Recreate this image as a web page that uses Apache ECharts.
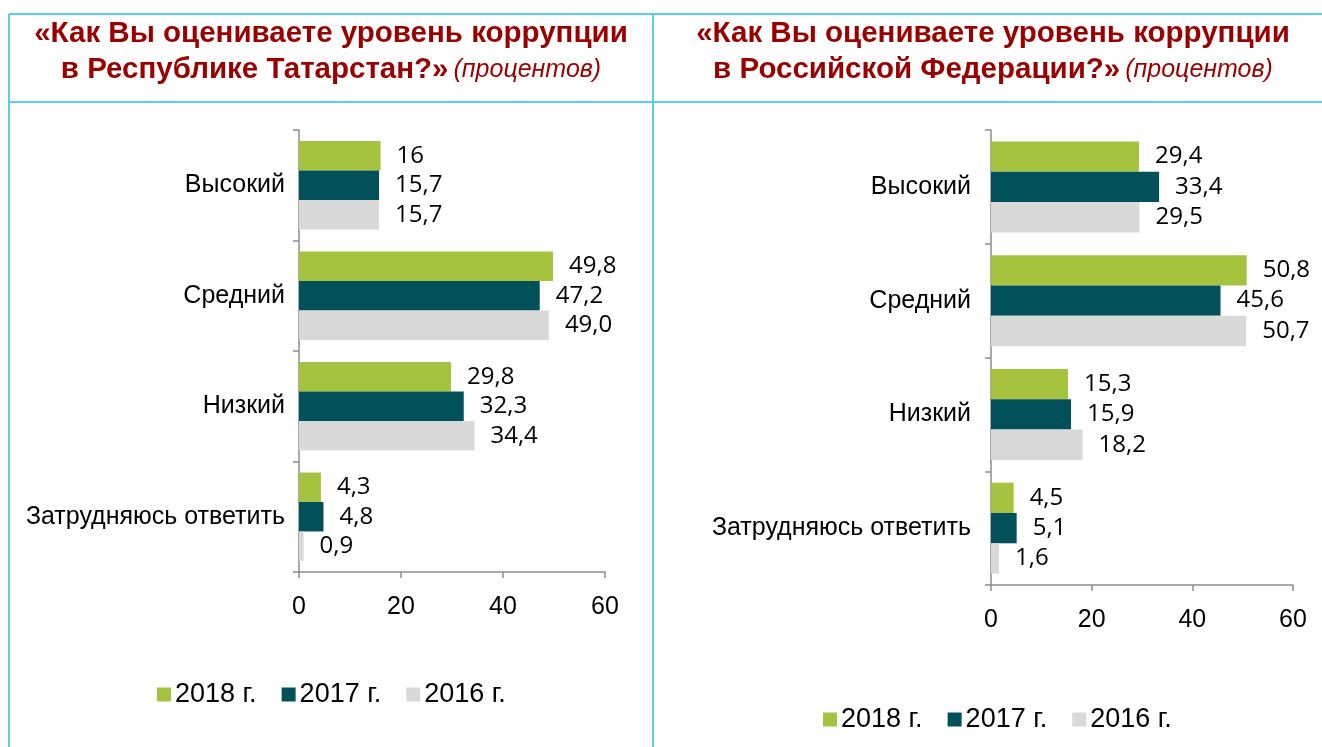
<!DOCTYPE html>
<html>
<head>
<meta charset="utf-8">
<script src="https://cdn.jsdelivr.net/npm/echarts@6/dist/echarts.min.js"></script>
<style>
  html, body { margin: 0; padding: 0; background: #fff; }
  #main { width: 1322px; height: 747px; }
</style>
</head>
<body>
<div id="main"></div>
<script>
// categories, top to bottom
var categories = ['Высокий', 'Средний', 'Низкий', 'Затрудняюсь ответить'];
var years = ['2018 г.', '2017 г.', '2016 г.'];

// Республика Татарстан (values kept as text so "49,0" keeps its decimal)
var tat2018 = ['16', '49.8', '29.8', '4.3'];
var tat2017 = ['15.7', '47.2', '32.3', '4.8'];
var tat2016 = ['15.7', '49.0', '34.4', '0.9'];

// Российская Федерация
var rf2018 = ['29.4', '50.8', '15.3', '4.5'];
var rf2017 = ['33.4', '45.6', '15.9', '5.1'];
var rf2016 = ['29.5', '50.7', '18.2', '1.6'];

var xTicks = { min: 0, max: 60, interval: 20 };

window.onload = function () {
  var colors = ['#a6c33f', '#02515a', '#d9d9d9'];
  var frame = '#5ccbf0';
  var myChart = echarts.init(document.getElementById('main'));

  function titleText(line1, line2) {
    return '{b|' + line1 + '}\n{b|' + line2 + '} {i|(процентов)}';
  }
  var titleRich = {
    b: { fontFamily: 'Liberation Sans, Arial', fontWeight: 'bold', fontSize: 29.5, color: '#990000', lineHeight: 36 },
    i: { fontFamily: 'Liberation Sans, Arial', fontStyle: 'italic', fontWeight: 'normal', fontSize: 25, color: '#990000', lineHeight: 36 }
  };

  function yAxis(gridIndex) {
    return {
      type: 'category', gridIndex: gridIndex, inverse: true, data: categories,
      axisLine: { lineStyle: { color: '#8c8c8c', width: 1.5 } },
      axisTick: { show: true, length: 6, lineStyle: { color: '#8c8c8c', width: 1.5 } },
      axisLabel: { fontFamily: 'Liberation Sans, Arial', fontSize: 25, color: '#000', margin: gridIndex ? 20 : 14 }
    };
  }
  function xAxis(gridIndex) {
    return {
      type: 'value', gridIndex: gridIndex,
      min: xTicks.min, max: xTicks.max, interval: xTicks.interval,
      splitLine: { show: false },
      axisLine: { show: true, lineStyle: { color: '#8c8c8c', width: 1.5 } },
      axisTick: { show: true, length: 6, lineStyle: { color: '#8c8c8c', width: 1.5 } },
      axisLabel: { fontFamily: 'Liberation Sans, Arial', fontSize: 25, color: '#000', margin: 23 }
    };
  }
  function bar(name, data, idx, gridIndex) {
    return {
      name: name, type: 'bar', xAxisIndex: gridIndex, yAxisIndex: gridIndex,
      data: data, barGap: '0%', barCategoryGap: '20%',
      itemStyle: { color: colors[idx] },
      label: {
        show: true, position: 'right', distance: 16,
        fontFamily: 'Open Sans', fontSize: 24, color: '#000',
        formatter: function (p) { return String(p.value).replace('.', ','); }
      }
    };
  }
  function legend(left, top) {
    return {
      data: years, left: left, top: top, icon: 'rect',
      itemWidth: 14, itemHeight: 14, itemGap: 25,
      textStyle: { fontFamily: 'Liberation Sans, Arial', fontSize: 27, color: '#000', padding: [0, 0, 0, -1] }
    };
  }

  var option = {
    animation: false,
    title: [
      { text: titleText('«Как Вы оцениваете уровень коррупции', 'в Республике Татарстан?»'),
        left: 331, top: 16, padding: 0, textAlign: 'center', textStyle: { rich: titleRich } },
      { text: titleText('«Как Вы оцениваете уровень коррупции', 'в Российской Федерации?»'),
        left: 993, top: 16, padding: 0, textAlign: 'center', textStyle: { rich: titleRich } }
    ],
    legend: [legend(152, 676), legend(818, 701)],
    grid: [
      { left: 299, top: 130, width: 306, height: 442, containLabel: false },
      { left: 991, top: 130, width: 302, height: 455, containLabel: false }
    ],
    xAxis: [xAxis(0), xAxis(1)],
    yAxis: [yAxis(0), yAxis(1)],
    series: [
      bar(years[0], tat2018, 0, 0),
      bar(years[1], tat2017, 1, 0),
      bar(years[2], tat2016, 2, 0),
      bar(years[0], rf2018, 0, 1),
      bar(years[1], rf2017, 1, 1),
      bar(years[2], rf2016, 2, 1)
    ],
    graphic: [
      { type: 'line', shape: { x1: 9, y1: 14, x2: 1322, y2: 14 }, style: { stroke: frame, lineWidth: 2 } },
      { type: 'line', shape: { x1: 9, y1: 102, x2: 1322, y2: 102 }, style: { stroke: frame, lineWidth: 2 } },
      { type: 'line', shape: { x1: 9, y1: 14, x2: 9, y2: 747 }, style: { stroke: frame, lineWidth: 2 } },
      { type: 'line', shape: { x1: 653, y1: 14, x2: 653, y2: 747 }, style: { stroke: frame, lineWidth: 2 } }
    ]
  };
  myChart.setOption(option);
};
</script>
</body>
</html>
